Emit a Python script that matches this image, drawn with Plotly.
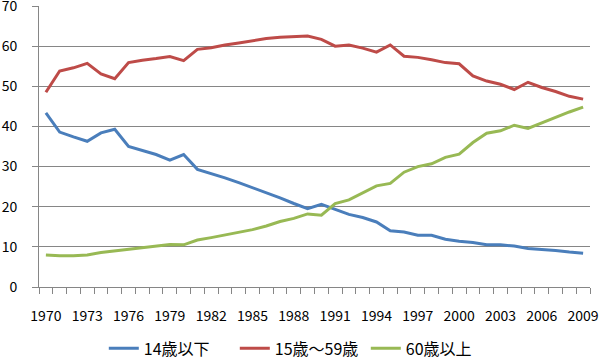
import plotly.graph_objects as go

years = list(range(1970, 2010))
age_0_14 = [43.4, 38.6, 37.4, 36.3, 38.4, 39.3, 35.0, 34.0, 33.0, 31.6,
            33.0, 29.3, 28.3, 27.2, 26.0, 24.8, 23.5, 22.2, 20.8, 19.5,
            20.6, 19.4, 18.1, 17.3, 16.2, 14.0, 13.7, 12.9, 12.9, 11.9,
            11.4, 11.1, 10.5, 10.5, 10.2, 9.6, 9.4, 9.1, 8.7, 8.4]
age_15_59 = [48.5, 53.8, 54.6, 55.7, 53.1, 51.9, 55.9, 56.5, 56.9, 57.4,
             56.4, 59.2, 59.6, 60.3, 60.8, 61.4, 61.9, 62.2, 62.4, 62.5,
             61.7, 60.0, 60.3, 59.5, 58.5, 60.3, 57.5, 57.2, 56.6, 55.9,
             55.6, 52.6, 51.3, 50.5, 49.2, 51.0, 49.7, 48.7, 47.5, 46.8]
age_60_plus = [8.0, 7.8, 7.8, 8.0, 8.6, 9.0, 9.4, 9.8, 10.3, 10.6,
               10.5, 11.7, 12.3, 13.0, 13.7, 14.3, 15.2, 16.3, 17.1, 18.2,
               17.9, 20.8, 21.7, 23.5, 25.2, 25.8, 28.6, 30.0, 30.7, 32.3,
               33.1, 36.0, 38.3, 38.9, 40.3, 39.5, 40.9, 42.3, 43.6, 44.8]
series_names = ["14歳以下", "15歳～59歳", "60歳以上"]
label_years = years[::3]
y_ticks = [0, 10, 20, 30, 40, 50, 60, 70]

colors = ["#4A7EBB", "#BE4B48", "#98B954"]
font = "Liberation Sans Narrow, Noto Sans CJK JP, sans-serif"

fig = go.Figure()
for name, vals, c in zip(series_names, [age_0_14, age_15_59, age_60_plus], colors):
    fig.add_trace(go.Scatter(x=years, y=vals, name=name, mode="lines",
                             line=dict(color=c, width=3)))

fig.update_layout(
    width=600, height=357,
    margin=dict(l=39, r=10, t=6, b=70, autoexpand=False),
    plot_bgcolor="white", paper_bgcolor="white",
    font=dict(family=font, size=14, color="#000000"),
    showlegend=True,
    legend=dict(orientation="h", xref="container", yref="container",
                x=0.173, xanchor="left", y=0.024, yanchor="middle",
                font=dict(size=16), itemwidth=30, tracegroupgap=0,
                entrywidth=86, entrywidthmode="pixels",
                bgcolor="rgba(0,0,0,0)"),
)
fig.update_xaxes(
    range=[years[0] - 0.5, years[-1] + 0.5],
    tickvals=label_years, ticktext=[str(y) for y in label_years],
    ticks="outside", ticklen=6, tickcolor="rgba(0,0,0,0)",
    ticklabelstandoff=10, automargin=False,
    showgrid=False, zeroline=False,
    showline=True, linecolor="#868686", linewidth=1,
    minor=dict(tickvals=[y - 0.5 for y in years] + [years[-1] + 0.5],
               ticks="outside", ticklen=6, tickcolor="#868686", showgrid=False),
)
fig.update_yaxes(
    range=[0, 70], tickvals=y_ticks, ticktext=[str(v) for v in y_ticks],
    ticks="outside", ticklen=6, tickcolor="#868686",
    ticklabelstandoff=12, ticklabeloverflow="allow", automargin=False,
    showgrid=True, gridcolor="#868686", gridwidth=1,
    zeroline=False, showline=True, linecolor="#868686", linewidth=1,
)

fig.write_html("out.html", config={"displayModeBar": False},
               post_script="document.body.style.margin='0';document.body.style.overflow='hidden';")
